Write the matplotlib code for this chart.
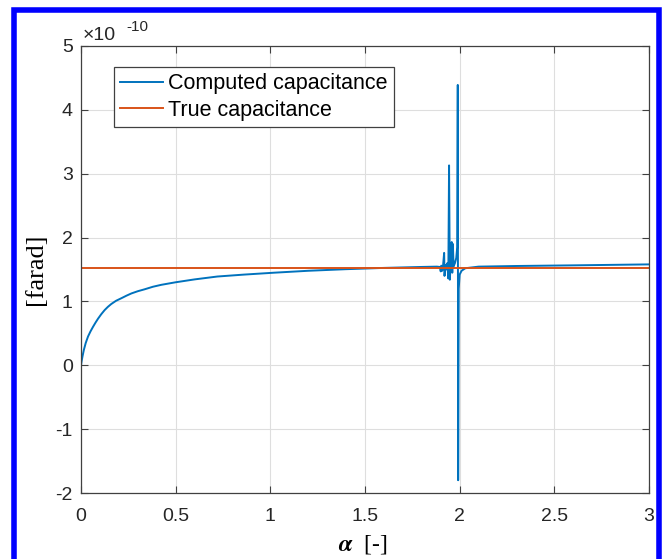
import numpy as np
import matplotlib
matplotlib.use("Agg")
import matplotlib.pyplot as plt
from matplotlib.patches import Rectangle

# capacitance values in units of 1e-10 farad
alpha = [0, 0.003, 0.008, 0.015, 0.025, 0.037, 0.05, 0.063, 0.077, 0.09,
         0.107, 0.125, 0.142, 0.16, 0.185, 0.213, 0.24, 0.266, 0.3,
         0.336, 0.38, 0.424, 0.5, 0.6, 0.72, 0.86, 1.02, 1.2, 1.4, 1.6, 1.8, 1.88,
         1.895, 1.900, 1.903, 1.908, 1.912, 1.918, 1.920, 1.925, 1.930,
         1.935, 1.940, 1.944, 1.948, 1.953, 1.958, 1.961, 1.964, 1.968,
         1.975, 1.982, 1.987, 1.990, 1.992, 1.995, 2.000, 2.010, 2.030,
         2.1, 2.3, 2.6, 3.0]
c_computed = [0, 0.06, 0.14, 0.24, 0.35, 0.45, 0.53, 0.60, 0.67, 0.73,
              0.80, 0.865, 0.915, 0.96, 1.01, 1.05, 1.09, 1.125, 1.16,
              1.19, 1.23, 1.26, 1.30, 1.345, 1.39, 1.42, 1.45, 1.48, 1.505, 1.525,
              1.54, 1.545,
              1.54, 1.47, 1.56, 1.48, 1.55, 1.76, 1.40, 1.57, 1.50,
              1.60, 1.36, 3.13, 1.34, 1.62, 1.93, 1.45, 1.90, 1.55,
              1.60, 1.68, 1.85, 4.39, -1.80, 1.20, 1.42, 1.48, 1.52,
              1.545, 1.555, 1.565, 1.58]
alpha_true = [0, 3]
c_true = [1.53, 1.53]

xticks = [0, 0.5, 1, 1.5, 2, 2.5, 3]
yticks = [-2, -1, 0, 1, 2, 3, 4, 5]

sans = "Liberation Sans"
serif = "Liberation Serif"
plt.rcParams["mathtext.fontset"] = "stix"

fig = plt.figure(figsize=(6.68, 5.59), dpi=100)
ax = fig.add_axes([81/668, 66/559, 568/668, 447/559])

ax.plot(alpha, c_computed, color="#0072BD", lw=1.4, label="Computed capacitance")
ax.plot(alpha_true, c_true, color="#D95319", lw=1.4, label="True capacitance")

ax.set_xlim(0, 3)
ax.set_ylim(-2, 5)
ax.set_xticks(xticks)
ax.set_yticks(yticks)
ax.set_xticklabels(["0", "0.5", "1", "1.5", "2", "2.5", "3"], fontfamily=sans, fontsize=14)
ax.set_yticklabels([str(t) for t in yticks], fontfamily=sans, fontsize=14)
ax.grid(True, color="#dedede", lw=0.8)
ax.set_axisbelow(True)
ax.tick_params(direction="in", top=True, right=True, length=5, width=0.8,
               color="#404040", labelcolor="#262626")
ax.tick_params(axis="x", pad=11)
ax.tick_params(axis="y", pad=6)
for s in ax.spines.values():
    s.set_color("#404040")
    s.set_linewidth(0.9)

leg = ax.legend(loc="upper left", bbox_to_anchor=(0.058, 0.953), borderaxespad=0,
                fancybox=False, edgecolor="#404040", framealpha=1,
                prop={"family": sans, "size": 15.5}, handlelength=2.0,
                handletextpad=0.2, borderpad=0.3, labelspacing=0.25)
leg.get_frame().set_linewidth(0.9)

# exponent label above the y axis
fig.text(83/668, 1 - 40/559, "\u00d710", fontfamily=sans, fontsize=14, color="#262626")
fig.text(126/668, 1 - 31/559, "-10", fontfamily=sans, fontsize=11, color="#262626")

ax.set_ylabel("[farad]", fontfamily=serif, fontsize=19, labelpad=6)
fig.text(363/668, 3/559, r"$\boldsymbol{\alpha}$  [-]", fontfamily=serif,
         fontsize=17, ha="center", va="bottom")

# blue frame around the figure
fig.patches.append(Rectangle((14/668, -0.05), 645/668, 1.05 - 9.7/559,
                             transform=fig.transFigure, fill=False,
                             edgecolor="#0000ff", lw=4, clip_on=False))

fig.savefig("out.png", dpi=100)
